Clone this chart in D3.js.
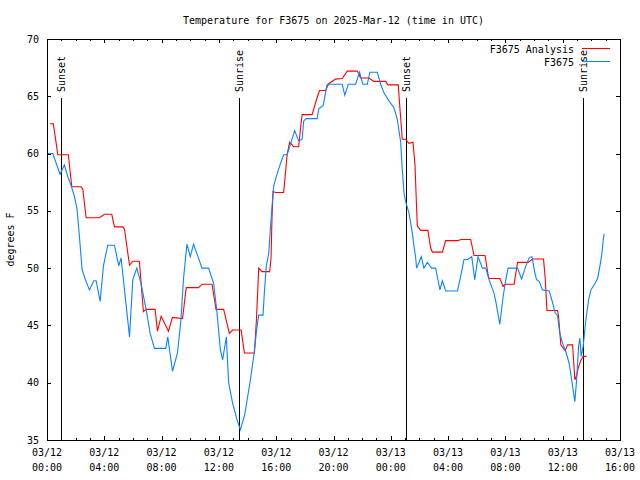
<!DOCTYPE html>
<html>
<head>
<meta charset="utf-8">
<script src="https://cdn.jsdelivr.net/npm/d3@7/dist/d3.min.js"></script>
<style>
  body { margin: 0; background: #fff; }
  svg { display: block; }
  text { font-family: "DejaVu Sans Mono", "Liberation Mono", monospace; font-size: 10px; fill: #000; }
</style>
</head>
<body>
<svg id="chart" width="640" height="480"></svg>
<script>
// ---- data (hours since 2025-03-12 00:00 UTC) ----
const chartTitle = "Temperature for F3675 on 2025-Mar-12 (time in UTC)";
const seriesNames = ["F3675 Analysis", "F3675"];
const yTicks = [35, 40, 45, 50, 55, 60, 65, 70];

const analysisHours = [0.21,0.44,0.63,0.75,1.49,1.73,2.38,2.50,2.73,3.66,4.01,4.52,4.71,5.29,5.41,5.76,5.99,6.45,6.73,6.92,
  7.55,7.71,7.97,8.48,8.76,9.46,9.72,10.58,10.82,11.52,11.80,12.33,12.73,12.96,13.55,13.78,14.48,14.62,14.78,15.01,
  15.55,15.64,15.71,15.78,15.94,16.52,16.64,16.76,16.94,17.22,17.57,17.69,17.81,18.51,18.81,19.02,19.44,19.67,20.14,20.61,
  20.96,21.66,21.89,22.47,22.82,23.64,23.80,24.52,24.64,24.80,25.03,25.27,25.55,25.69,25.77,25.85,26.08,26.59,26.78,26.90,
  27.60,27.83,28.69,28.88,29.58,29.81,30.58,30.79,30.86,31.61,31.84,31.98,32.61,32.85,33.59,33.90,34.66,34.78,34.90,35.64,
  35.71,35.87,36.17,36.34,36.69,36.85,36.99,37.11,37.29,37.43,37.67];
const analysisTemps = [62.6,62.6,61.0,59.9,59.9,57.1,57.1,56.9,54.4,54.4,54.7,54.7,53.6,53.6,53.4,50.25,50.6,50.6,46.2,46.4,
  46.4,44.5,45.8,44.5,45.7,45.6,48.3,48.3,48.6,48.6,46.4,46.4,44.3,44.6,44.6,42.6,42.6,45.5,50.0,49.7,
  49.7,50.9,54.5,56.7,56.6,56.6,58.2,59.9,61.0,60.6,60.6,62.1,63.4,63.4,64.7,65.5,65.5,66.1,66.5,66.55,
  67.2,67.2,66.6,66.6,66.3,66.3,66.0,66.0,63.9,61.25,61.25,60.9,61.0,59.0,56.3,53.7,53.3,53.3,51.8,51.4,
  51.4,52.4,52.4,52.5,52.5,51.1,51.1,49.4,49.1,49.1,48.4,48.6,48.6,50.5,50.5,50.8,50.8,49.1,46.3,46.3,
  45.8,43.3,42.8,43.3,43.3,40.25,40.7,41.4,42.0,42.3,42.3];

const stationHours = [0.05,0.40,0.63,0.91,1.21,1.45,1.68,1.91,2.10,2.26,2.45,2.68,2.96,3.27,3.43,3.71,3.94,4.24,4.71,5.01,
  5.17,5.41,5.76,5.99,6.27,6.57,6.92,7.20,7.50,8.29,8.43,8.76,9.11,9.35,9.53,9.77,10.00,10.23,10.54,10.82,
  11.28,11.63,11.87,12.10,12.26,12.52,12.68,12.96,13.27,13.50,13.80,14.20,14.43,14.66,14.78,15.08,15.17,15.31,15.48,15.59,
  15.71,15.83,16.06,16.29,16.52,16.76,16.99,17.29,17.57,17.81,17.92,18.11,18.86,18.97,19.28,19.44,19.56,20.61,20.79,21.03,
  21.54,21.82,22.05,22.36,22.54,23.06,23.29,23.52,23.87,24.22,24.45,24.69,24.80,24.92,25.03,25.27,25.50,25.62,25.73,25.80,
  25.97,26.13,26.31,26.55,26.85,27.13,27.29,27.43,27.60,27.76,27.83,28.65,28.88,29.11,29.35,29.65,29.86,30.09,30.40,30.63,
  30.86,31.21,31.33,31.61,31.84,32.03,32.19,32.85,33.13,33.43,33.66,33.85,34.01,34.17,34.36,34.59,35.06,35.29,35.47,35.64,
  35.80,35.99,36.22,36.45,36.69,36.85,36.97,37.11,37.20,37.29,37.43,37.62,37.81,37.97,38.27,38.44,38.60,38.74,38.83,38.90];
const stationTemps = [60.0,60.0,59.2,58.2,59.0,58.0,57.2,56.3,55.1,52.8,49.9,49.0,48.1,48.9,48.9,47.1,50.2,52.0,52.0,50.2,
  50.9,48.1,44.0,49.0,50.0,48.6,46.4,44.3,43.0,43.0,44.0,41.0,42.6,45.5,49.1,52.1,51.0,52.1,51.0,50.0,
  50.0,48.7,46.1,42.9,42.0,44.0,40.0,38.2,36.75,35.9,37.2,40.25,42.3,44.9,45.9,45.9,47.8,50.2,51.3,53.4,
  55.4,57.2,58.2,59.1,59.9,59.9,60.8,62.0,61.1,61.25,62.85,63.05,63.05,63.9,64.2,65.3,66.05,66.05,65.1,66.05,
  66.05,67.1,66.05,66.05,67.1,67.1,66.05,65.3,64.6,64.0,63.0,61.0,58.6,56.6,55.85,54.8,53.1,51.9,51.0,50.0,
  50.5,51.0,50.0,50.5,50.0,50.0,49.0,48.1,48.9,48.3,48.0,48.0,49.3,50.75,50.75,51.0,49.0,51.0,50.0,50.0,
  49.0,47.8,47.1,45.1,47.5,49.0,50.0,50.0,49.05,50.2,50.9,51.0,49.9,49.0,48.85,48.1,48.0,47.0,46.1,45.85,
  44.3,43.45,42.7,41.7,39.7,38.35,40.25,43.2,43.9,42.3,43.2,45.5,47.25,48.1,48.7,49.1,50.2,51.3,52.5,53.0];

const sunHours = [0.96, 13.38, 25.06, 37.43];
const sunLabels = ["Sunset", "Sunrise", "Sunset", "Sunrise"];
const seriesColors = ["#ff0000", "#0a84ff"];

// ---- layout ----
const L = 47, R = 620, T = 39, B = 440;
const t0 = Date.UTC(2025, 2, 12, 0, 0);
const toDate = h => new Date(t0 + h * 3600e3);

const svg = d3.select("#chart");
const x = d3.scaleUtc().domain([toDate(0), toDate(40)]).range([L, R]);
const y = d3.scaleLinear().domain([35, 70]).range([B, T]);

// title
svg.append("text").attr("x", (L + R) / 2).attr("y", 24).attr("text-anchor", "middle").text(chartTitle);
// y label
svg.append("text").attr("transform", `translate(14,${(T + B) / 2}) rotate(-90)`)
  .attr("text-anchor", "middle").text("degrees F");

// ticks
const g = svg.append("g").attr("shape-rendering", "crispEdges");
const hourTicks = d3.utcHour.every(1).range(toDate(0), toDate(40.01));
hourTicks.forEach(d => {
  const major = d.getUTCHours() % 4 === 0;
  const len = major ? 4 : 2;
  const xp = Math.round(x(d)) + 0.5;
  g.append("line").attr("x1", xp).attr("x2", xp).attr("y1", B).attr("y2", B - len).attr("stroke", "#000");
  g.append("line").attr("x1", xp).attr("x2", xp).attr("y1", T).attr("y2", T + len).attr("stroke", "#000");
});
const majorTicks = d3.utcHour.every(4).range(toDate(0), toDate(40.01));
const fmtDate = d3.utcFormat("%m/%d"), fmtTime = d3.utcFormat("%H:%M");
majorTicks.forEach(d => {
  const t = svg.append("text").attr("text-anchor", "middle").attr("x", x(d));
  t.append("tspan").attr("x", x(d)).attr("y", 456).text(fmtDate(d));
  t.append("tspan").attr("x", x(d)).attr("y", 471).text(fmtTime(d));
});
yTicks.forEach(v => {
  const yp = Math.round(y(v)) + 0.5;
  g.append("line").attr("x1", L).attr("x2", L + 4).attr("y1", yp).attr("y2", yp).attr("stroke", "#000");
  g.append("line").attr("x1", R).attr("x2", R - 4).attr("y1", yp).attr("y2", yp).attr("stroke", "#000");
  svg.append("text").attr("x", 39).attr("y", y(v)).attr("dy", "0.35em").attr("text-anchor", "end").text(v);
});

// sun lines
sunHours.forEach((h, i) => {
  const xp = Math.round(x(toDate(h))) + 0.5;
  g.append("line").attr("x1", xp).attr("x2", xp).attr("y1", 98).attr("y2", B).attr("stroke", "#000");
  svg.append("text").attr("transform", `translate(${xp},92) rotate(-90)`)
    .attr("dy", "0.35em").attr("text-anchor", "start").text(sunLabels[i]);
});

// series
const line = d3.line().x(d => x(toDate(d[0]))).y(d => y(d[1]));
const series = [
  d3.zip(analysisHours, analysisTemps),
  d3.zip(stationHours, stationTemps)
];
series.forEach((s, i) => {
  svg.append("path").datum(s).attr("d", line).attr("fill", "none")
    .attr("stroke", seriesColors[i]).attr("stroke-width", 1.1);
});

// border
g.append("rect").attr("x", L + 0.5).attr("y", T + 0.5).attr("width", R - L).attr("height", B - T)
  .attr("fill", "none").attr("stroke", "#000");

// legend
seriesNames.forEach((n, i) => {
  const ly = 49 + i * 13;
  svg.append("text").attr("x", 574).attr("y", ly).attr("dy", "0.35em").attr("text-anchor", "end").text(n);
  svg.append("line").attr("x1", 582).attr("x2", 610).attr("y1", ly - 0.5).attr("y2", ly - 0.5)
    .attr("stroke", seriesColors[i]).attr("stroke-width", 1.1);
});
</script>
</body>
</html>
